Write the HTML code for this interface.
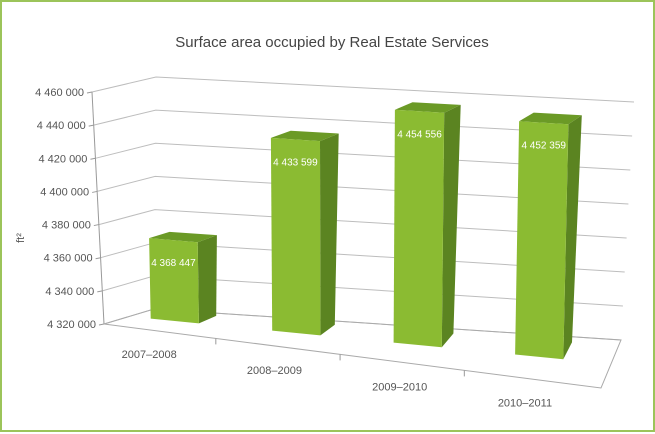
<!DOCTYPE html>
<html><head><meta charset="utf-8"><style>
body{margin:0;background:#fff}
#wrap{position:relative;width:655px;height:432px;box-sizing:border-box;border:2px solid #9cc45a;background:#fff}
svg{position:absolute;left:0;top:0}
text{font-family:"Liberation Sans",sans-serif}
</style></head><body>
<div id="wrap">
<svg id="c" width="655" height="432" viewBox="-2 -2 655 432">
<text x="328" y="43" text-anchor="middle" font-size="15" fill="#444">Surface area occupied by Real Estate Services</text>
<text transform="translate(20,234) rotate(-90)" text-anchor="middle" font-size="11" fill="#555">ft²</text>
</svg>
</div>
<script>
const categories=["2007–2008","2008–2009","2009–2010","2010–2011"];
const values=[4368447,4433599,4454556,4452359];
const valueLabels=["4 368 447","4 433 599","4 454 556","4 452 359"];
const ticks=[4320000,4340000,4360000,4380000,4400000,4420000,4440000,4460000];
const tickLabels=["4 320 000","4 340 000","4 360 000","4 380 000","4 400 000","4 420 000","4 440 000","4 460 000"];
const vMin=4320000,vMax=4460000;
// projection planes
const F={tl:[88,88],bl:[100,320],br:[597,384],tr:[597,121]};
const B={tl:[152,73],bl:[150,305],br:[617,336],tr:[630,98]};
function bil(Q,u,v){
  const bx=Q.bl[0]+(Q.br[0]-Q.bl[0])*u, by=Q.bl[1]+(Q.br[1]-Q.bl[1])*u;
  const tx=Q.tl[0]+(Q.tr[0]-Q.tl[0])*u, ty=Q.tl[1]+(Q.tr[1]-Q.tl[1])*u;
  return [bx+(tx-bx)*v, by+(ty-by)*v];
}
function P(u,w,val){
  const v=(val-vMin)/(vMax-vMin);
  const a=bil(F,u,v),b=bil(B,u,v);
  return [a[0]+(b[0]-a[0])*w, a[1]+(b[1]-a[1])*w];
}
const svg=document.getElementById('c');
const NS='http://www.w3.org/2000/svg';
function mk(tag,attrs){const e=document.createElementNS(NS,tag);for(const k in attrs)e.setAttribute(k,attrs[k]);svg.appendChild(e);return e;}
function pts(a){return a.map(p=>p[0].toFixed(1)+','+p[1].toFixed(1)).join(' ');}
ticks.forEach((t,i)=>{
  const l=mk('polyline',{points:pts([P(0,0,t),P(0,1,t),P(1,1,t)]),fill:'none',stroke:'#bdbdbd','stroke-width':1});
  
  
  const f=P(0,0,t);
  const tk=mk('line',{x1:f[0]-5,y1:f[1]+1,x2:f[0],y2:f[1],stroke:'#999'});
  
  
  const tx=mk('text',{x:f[0]-8,y:f[1]+4,'text-anchor':'end','font-size':11,fill:'#555'});
  tx.textContent=tickLabels[i];
  
  
});
const ax=mk('line',{x1:P(0,0,vMin)[0],y1:P(0,0,vMin)[1],x2:P(0,0,vMax)[0],y2:P(0,0,vMax)[1],stroke:'#999'});


const fl=mk('polygon',{points:pts([P(0,0,vMin),P(1,0,vMin),P(1,1,vMin),P(0,1,vMin)]),fill:'none',stroke:'#aaa'});


[0.225,0.475,0.725].forEach(u=>{
  const p=P(u,0,vMin);
  const t=mk('line',{x1:p[0],y1:p[1],x2:p[0],y2:p[1]+6,stroke:'#999'});
  
  
});
const wf=0.5,wb=0.88,hw=0.05;
categories.forEach((c,i)=>{
  const u=0.095+0.252*i,val=values[i];
  const g=document.createElementNS(NS,'g');svg.appendChild(g);
  
  
  const f=[P(u-hw,wf,vMin),P(u+hw,wf,vMin),P(u+hw,wf,val),P(u-hw,wf,val)];
  const side=[P(u+hw,wf,vMin),P(u+hw,wb,vMin),P(u+hw,wb,val),P(u+hw,wf,val)];
  const top=[P(u-hw,wf,val),P(u+hw,wf,val),P(u+hw,wb,val),P(u-hw,wb,val)];
  [[side,'#5b8421','bar-side'],[top,'#6b9a26','bar-top'],[f,'#8bbb32','bar-front']].forEach(s=>{
    const e=document.createElementNS(NS,'polygon');
    e.setAttribute('points',pts(s[0]));e.setAttribute('fill',s[1]);
    
    
    g.appendChild(e);
  });
  const lt=P(u,wf,val);
  const t=mk('text',{x:lt[0],y:lt[1]+26,'text-anchor':'middle','font-size':10,fill:'#fff'});
  t.textContent=valueLabels[i];
  
  
  const lp=P(u,0,vMin);
  const cl=mk('text',{x:lp[0]-2,y:lp[1]+28,'text-anchor':'middle','font-size':11,fill:'#555'});
  cl.textContent=c;
  
  
});
</script>
</body></html>
